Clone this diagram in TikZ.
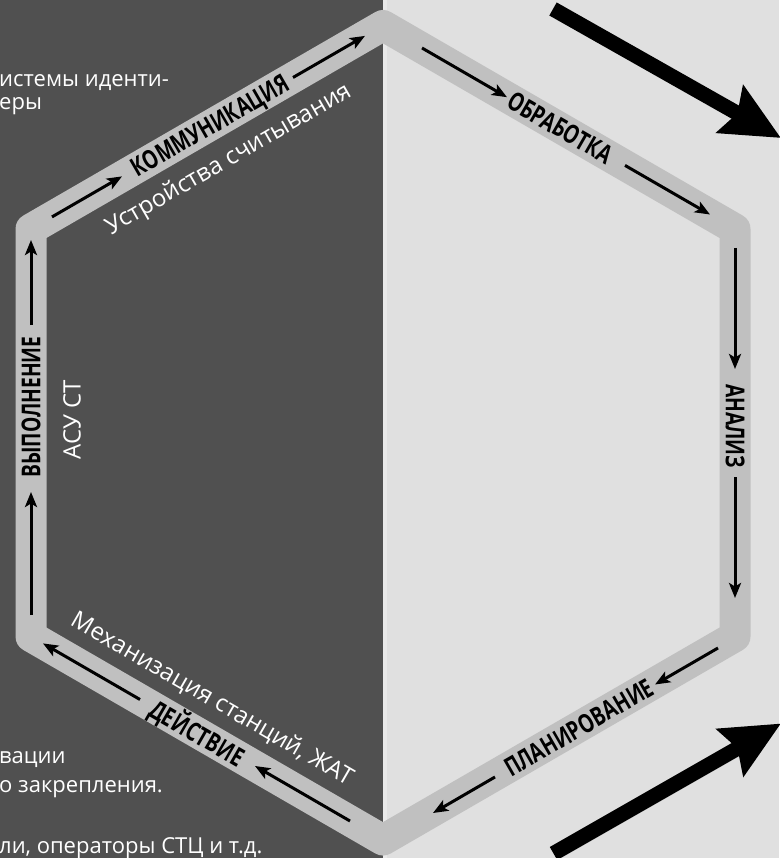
\documentclass[tikz,border=0pt]{standalone}
\usepackage{fontspec}
\setmainfont{Open Sans}
\newfontfamily\bodyfont{Open Sans}
\newfontfamily\condfont{Open Sans}[FakeStretch=0.74]
\usetikzlibrary{arrows.meta}
\definecolor{darkbg}{HTML}{505050}
\definecolor{lightbg}{HTML}{E0E0E0}
\definecolor{stripe}{HTML}{E9E9E9}
\definecolor{bandgray}{HTML}{C0C0C0}
\tikzset{
  band/.style={draw=bandgray, line width=31pt, line join=round},
  thinarrow/.style={draw=black, line width=3pt, -{Stealth[length=15pt,width=12pt,inset=3.5pt]}},
  bigarrow/.style={draw=black, line width=15pt, -{Stealth[length=58pt,width=53pt,inset=8pt]}},
  lab/.style={font=\condfont\bfseries\fontsize{26}{26}\selectfont, text=black, inner sep=0pt, text height=18.5pt, text depth=0pt},
  wlab/.style={font=\bodyfont\fontsize{24}{24}\selectfont, text=white, inner sep=0pt, text height=17pt, text depth=0pt},
  body/.style={font=\bodyfont\fontsize{22}{22}\selectfont, text=white, inner sep=0pt, anchor=base west}
}
\begin{document}
\begin{tikzpicture}[x=1pt,y=-1pt]
\useasboundingbox (0,0) rectangle (779,858);
\fill[darkbg] (0,0) rectangle (383,858);
\fill[lightbg] (383,0) rectangle (779,858);
\fill[stripe] (383,0) rectangle (387,858);

% hexagon
\coordinate (T) at (383,25.5);
\coordinate (UR) at (735,229);
\coordinate (LR) at (735,636.5);
\coordinate (B) at (383,840);
\coordinate (LL) at (31,636.5);
\coordinate (UL) at (31,229);
\draw[band] (T) -- (UR) -- (LR) -- (B) -- (LL) -- (UL) -- cycle;

% arrow end points
\coordinate (k1s) at (52,216.9);  \coordinate (k1e) at (122,176.4);
\coordinate (k2s) at (293,77.5);  \coordinate (k2e) at (365,35.9);
\coordinate (o1s) at (422,48.0);  \coordinate (o1e) at (507,97.2);
\coordinate (o2s) at (625,165.4); \coordinate (o2e) at (710,214.5);
\coordinate (a1s) at (735,248);   \coordinate (a1e) at (735,369);
\coordinate (a2s) at (735,477);   \coordinate (a2e) at (735,598);
\coordinate (p1s) at (718,648);   \coordinate (p1e) at (655,684.5);
\coordinate (p2s) at (495,777);   \coordinate (p2e) at (433,813);
\coordinate (d1s) at (350,821);   \coordinate (d1e) at (255,766);
\coordinate (d2s) at (140,699.5); \coordinate (d2e) at (43,643.4);
\coordinate (v1s) at (31,615);    \coordinate (v1e) at (31,492);
\coordinate (v2s) at (31,325);    \coordinate (v2e) at (31,240);

\draw[thinarrow] (k1s) -- (k1e);
\draw[thinarrow] (k2s) -- (k2e);
\draw[thinarrow] (o1s) -- (o1e);
\draw[thinarrow] (o2s) -- (o2e);
\draw[thinarrow] (a1s) -- (a1e);
\draw[thinarrow] (a2s) -- (a2e);
\draw[thinarrow] (p1s) -- (p1e);
\draw[thinarrow] (p2s) -- (p2e);
\draw[thinarrow] (d1s) -- (d1e);
\draw[thinarrow] (d2s) -- (d2e);
\draw[thinarrow] (v1s) -- (v1e);
\draw[thinarrow] (v2s) -- (v2e);

% labels on the band
\node[lab, rotate=30]  (komm)   at (210,125.5) {КОММУНИКАЦИЯ};
\node[lab, rotate=-30] (obr)    at (560,127.8) {ОБРАБОТКА};
\node[lab, rotate=-90] (anal)   at (735,426)   {АНАЛИЗ};
\node[lab, rotate=30]  (plan)   at (579,727.5) {ПЛАНИРОВАНИЕ};
\node[lab, rotate=-30] (deistv) at (197,733.5) {ДЕЙСТВИЕ};
\node[lab, rotate=90]  (vypoln) at (31,407)    {ВЫПОЛНЕНИЕ};

% white labels inside
\node[wlab, rotate=30]  (ustr) at (228,158) {Устройства считывания};
\node[wlab, rotate=-30] (mekh) at (213,698) {Механизация станций, ЖАТ};
\node[wlab, rotate=90]  (asu)  at (72,420)  {АСУ СТ};

% partial body text at the left edge
\node[body] (t1) at (-1,87)  {истемы иденти-};
\node[body] (t2) at (-1,110) {еры};
\node[body] (t3) at (-1,763) {вации};
\node[body] (t4) at (-1,792) {о закрепления.};
\node[body] (t5) at (-1,853) {ли, операторы СТЦ и т.д.};

% big arrows
\coordinate (bt1) at (553,9);       \coordinate (bh1) at (781,138);
\coordinate (bt2) at (553.5,853.5); \coordinate (bh2) at (781,723.5);
\draw[bigarrow] (bt1) -- (bh1);
\draw[bigarrow] (bt2) -- (bh2);
\end{tikzpicture}
\end{document}
